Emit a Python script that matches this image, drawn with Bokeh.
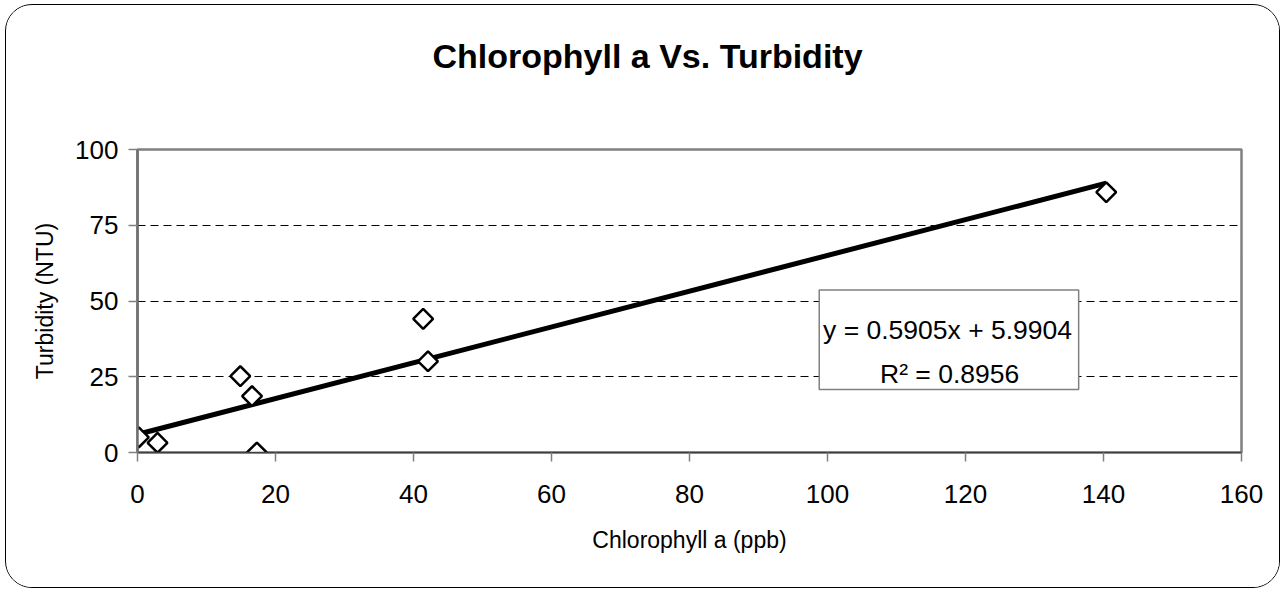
import math
from bokeh.plotting import figure
from bokeh.models import Range1d, FixedTicker, Label, BoxAnnotation, ColumnDataSource, Title
from bokeh.embed import file_html
from bokeh.resources import INLINE

# ---- data ----
chlorophyll = [0.2, 2.9, 14.9, 16.6, 17.3, 41.4, 42.1, 140.4]
turbidity = [5.0, 3.2, 25.2, 18.6, 0.0, 44.1, 30.1, 85.9]
slope = 0.5905
intercept = 5.9904
r_squared = 0.8956
x_ticks = [0, 20, 40, 60, 80, 100, 120, 140, 160]
y_ticks = [0, 25, 50, 75, 100]
grid_ticks = [25, 50, 75]
title_text = "Chlorophyll a Vs. Turbidity"
x_label = "Chlorophyll a (ppb)"
y_label = "Turbidity (NTU)"

FONT = "Liberation Sans"

p = figure(
    width=1275, height=584,
    output_backend="svg", toolbar_location=None,
    x_range=Range1d(0, 160), y_range=Range1d(0, 100),
    min_border_left=131, min_border_right=40,
    min_border_top=144, min_border_bottom=137,
)
p.styles = {"border": "1.5px solid #000000", "border-radius": "27px", "overflow": "hidden",
            "margin-left": "5px", "margin-top": "4px"}
p.border_fill_color = "white"
p.background_fill_color = "white"
p.outline_line_color = "#808080"
p.outline_line_width = 2.5

# title (a thin spacer sits between the title and the plot area)
p.add_layout(Title(text=" ", text_font_size="1px", standoff=70), "above")
p.title = Title(text=title_text, text_font=FONT, text_font_size="34px",
                text_font_style="bold", text_color="black", align="left",
                offset=295, vertical_align="top", standoff=0)

# axes
for ax in (p.xaxis, p.yaxis):
    ax.major_label_text_font = FONT
    ax.major_label_text_font_size = "26px"
    ax.major_label_text_color = "black"
    ax.axis_label_text_font = FONT
    ax.axis_label_text_font_size = "23px"
    ax.axis_label_text_font_style = "normal"
    ax.axis_label_text_color = "black"
    ax.major_tick_in = 0
    ax.major_tick_out = 9
    ax.major_tick_line_color = "#808080"
    ax.major_tick_line_width = 1.5
    ax.minor_tick_out = 0
    ax.minor_tick_in = 0

p.xaxis.ticker = FixedTicker(ticks=x_ticks)
p.yaxis.ticker = FixedTicker(ticks=y_ticks)
p.xaxis.axis_label = x_label
p.yaxis.axis_label = y_label
p.xaxis.axis_line_color = "#404040"
p.xaxis.axis_line_width = 1.5
p.yaxis.axis_line_color = "#707070"
p.yaxis.axis_line_width = 2.5
p.xaxis.major_label_standoff = 23
p.xaxis.axis_label_standoff = 21
p.yaxis.major_label_standoff = 10
p.yaxis.axis_label_standoff = 14

# grid
p.xgrid.visible = False
p.ygrid.ticker = FixedTicker(ticks=grid_ticks)
p.ygrid.grid_line_color = "black"
p.ygrid.grid_line_width = 1
p.ygrid.grid_line_dash = "8 5"

# trend line
x0, x1 = min(chlorophyll), max(chlorophyll)
trend = ColumnDataSource(dict(x=[x0, x1], y=[slope * x0 + intercept, slope * x1 + intercept]))
p.line("x", "y", source=trend, line_color="black", line_width=5)

# data points
pts = ColumnDataSource(dict(x=chlorophyll, y=turbidity))
p.scatter("x", "y", source=pts, marker="square", angle=math.pi / 4, size=14,
          fill_color="white", line_color="black", line_width=2.5)

# equation box
p.add_layout(BoxAnnotation(left=98.8, right=136.4, top=53.6, bottom=20.8,
                           fill_color="white", fill_alpha=1.0,
                           line_color="#808080", line_width=1.5, line_alpha=1.0))
eq1 = f"y = {slope:.4f}x + {intercept:.4f}"
eq2 = f"R\u00b2 = {r_squared:.4f}"
p.add_layout(Label(x=117.4, y=40.4, text=eq1, text_align="center",
                   text_baseline="alphabetic", text_font=FONT,
                   text_font_size="26.5px", text_color="black"))
p.add_layout(Label(x=117.7, y=25.9, text=eq2, text_align="center",
                   text_baseline="alphabetic", text_font=FONT,
                   text_font_size="26.5px", text_color="black"))

open("out.html", "w").write(file_html(p, INLINE))
